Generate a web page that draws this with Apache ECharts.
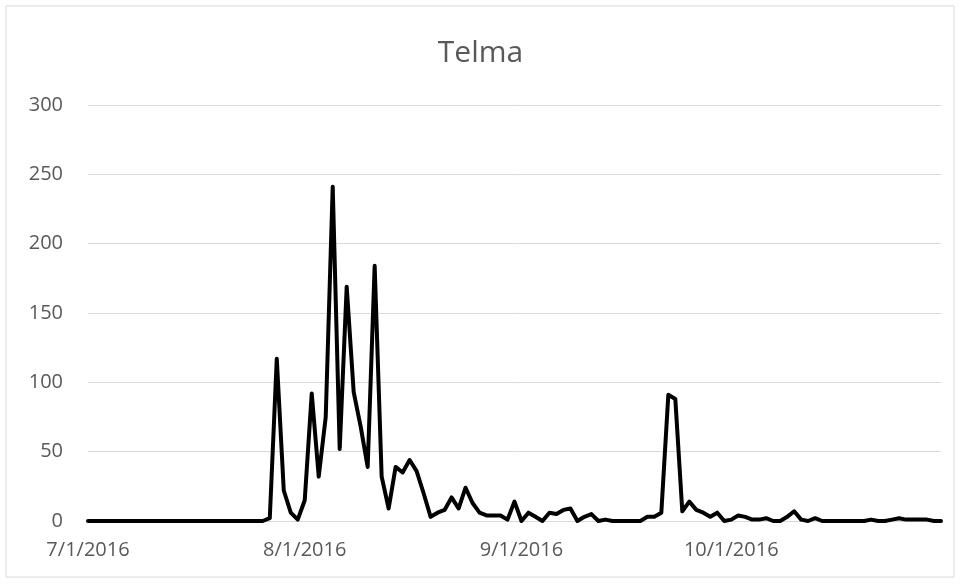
<!DOCTYPE html>
<html>
<head>
<meta charset="utf-8">
<script src="https://cdn.jsdelivr.net/npm/echarts@6/dist/echarts.min.js"></script>
<style>
html,body{margin:0;padding:0;background:#fff;}
#chart{width:961px;height:584px;}
</style>
</head>
<body>
<div id="chart"></div>
<script>
// Daily values from 7/1/2016 to 10/31/2016
const startDate = [2016, 7, 1];
const values = [
  0,0,0,0,0,0,0,0,0,0,            // 7/1 - 7/10
  0,0,0,0,0,0,0,0,0,0,            // 7/11 - 7/20
  0,0,0,0,0,0,2,117,22,6,         // 7/21 - 7/30
  1,                              // 7/31
  15,92,32,75,241,52,169,93,68,39,// 8/1 - 8/10
  184,32,9,39,35,44,36,20,3,6,    // 8/11 - 8/20
  8,17,9,24,13,6,4,4,4,1,14,      // 8/21 - 8/31
  0,6,3,0,6,5,8,9,0,3,            // 9/1 - 9/10
  5,0,1,0,0,0,0,0,3,3,            // 9/11 - 9/20
  6,91,88,7,14,8,6,3,6,0,         // 9/21 - 9/30
  1,4,3,1,1,2,0,0,3,7,            // 10/1 - 10/10
  1,0,2,0,0,0,0,0,0,0,            // 10/11 - 10/20
  1,0,0,1,2,1,1,1,1,0,0           // 10/21 - 10/31
];
const yTicks = [0, 50, 100, 150, 200, 250, 300];
const titleText = 'Telma';

const categories = [];
{
  const d = new Date(startDate[0], startDate[1]-1, startDate[2]);
  for (let i = 0; i < values.length; i++) {
    categories.push((d.getMonth()+1) + '/' + d.getDate() + '/' + d.getFullYear());
    d.setDate(d.getDate()+1);
  }
}

const chart = echarts.init(document.getElementById('chart'));
chart.setOption({
  animation: false,
  backgroundColor: '#fff',
  title: {
    text: titleText,
    left: 'center',
    top: 33,
    textStyle: {color: '#595959', fontSize: 30, fontWeight: 'normal', fontFamily: 'Open Sans'}
  },
  graphic: [{
    type: 'rect',
    shape: {x: 6, y: 6, width: 948, height: 571},
    style: {fill: 'none', stroke: '#d9d9d9', lineWidth: 1},
    silent: true
  }],
  grid: {left: 88, right: 20, top: 105, bottom: 63},
  xAxis: {
    type: 'category',
    data: categories,
    boundaryGap: false,
    axisLine: {show: true, lineStyle: {color: '#d9d9d9'}},
    axisTick: {show: false},
    splitLine: {show: false},
    axisLabel: {
      color: '#595959',
      fontSize: 20,
      fontFamily: 'Open Sans',
      margin: 19,
      interval: function (idx, val) { return val.split('/')[1] === '1'; }
    }
  },
  yAxis: {
    type: 'value',
    min: yTicks[0],
    max: yTicks[yTicks.length-1],
    interval: 50,
    axisLine: {show: false},
    axisTick: {show: false},
    splitLine: {lineStyle: {color: '#d9d9d9', width: 1}},
    axisLabel: {color: '#595959', fontSize: 20, fontFamily: 'Open Sans', margin: 25}
  },
  series: [{
    type: 'line',
    data: values,
    showSymbol: false,
    symbol: 'none',
    lineStyle: {color: '#000', width: 4, join: 'round', cap: 'round'},
    itemStyle: {color: '#000'}
  }]
});
</script>
</body>
</html>
